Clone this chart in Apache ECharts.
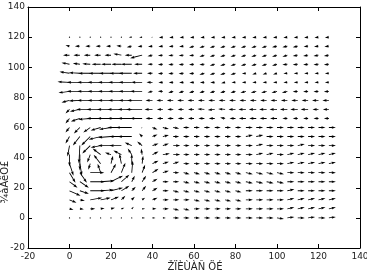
<!DOCTYPE html>
<html><head><meta charset="utf-8">
<script src="https://cdn.jsdelivr.net/npm/echarts@6/dist/echarts.min.js"></script>
<style>html,body{margin:0;padding:0;background:#fff}#c{width:367px;height:272px}</style>
</head><body><div id="c"></div>
<script>
// grid of arrow tails
const xs = [0,5,10,15,20,25,30,35,40,45,50,55,60,65,70,75,80,85,90,95,100,105,110,115,120,125];
const ys = [120,114,108,102,96,90,84,78,72,66,60,54,48,42,36,30,24,18,12,6,0];
// horizontal component, one row per ys entry
const U = [
[-0.6,-0.6,-0.6,-0.6,-0.6,-0.8,-3,-3,-1.5,-4,-4,-4,-4,-4,-4,-4,-4,-4,-4,-4,-4,-4,-4,-4,-4,-4],
[-4,-5,-5,-5,-5,-5,-5,-4.5,-4.5,-4.5,-4.5,-4.5,-5,-5,-5,-5,-5,-5,-5,-5,-5,-5,-5,-4.5,-4.5,-4.5],
[-6.5,-6.5,-6.5,-6.5,-6.5,-8,-7,-12,-5,-5,-5,-5,-5,-5,-5,-5,-5,-5,-5,-5,-5,-5,-5,-5,-5,-5],
[-8,-7,-8,-9,-10,-10,-11,-8,-5,-5,-5,-5,-5,-5,-5,-5,-5,-5,-5,-5,-5,-5,-5,-5,-5,-5],
[-10,-11,-12,-12,-12,-12,-13,-9,-5.5,-5,-5,-5,-5,-5,-5,-5,-5,-4,-4,-4,-4,-4,-4,-4,-4,-4],
[-12,-13,-13,-13,-13,-13,-13,-11,-6,-4.5,-4.5,-4.5,-4.5,-4.5,-4.5,-4,-4,-4,-4,-4,-4,-4,-4,-4,-4,-4],
[-11,-13,-13,-13,-13,-13,-13,-12,-5,-5,-5,-5,-5,-5,-5,-5,-5,-5.5,-5.5,-5.5,-5.5,-5.5,-5,-5,-5,-5],
[-8,-11,-13,-13,-13,-13,-13,-15,-7,-6.5,-6.5,-6.5,-6.5,-6.5,-6.5,-6.5,-6.5,-6.5,-6.5,-6.5,-6.5,-6.5,-6.5,-6.5,-6.5,-6.5],
[-4,-10,-14,-14,-14,-14,-14,-16,-8,-6,-6,-6,-6,-7,-7,-7,-7,-7.5,-7.5,-7.5,-7.5,-7.5,-7.5,-7.5,-6,-6],
[-4,-9,-12,-14,-14,-14,-14,-12,-7,-6,-6,-6,-6,-6,-6,-5,-6,-7,-7,-7,-7,-5,-5,-5,-5,-5],
[-4,-6,-7,-10,-12,-14,-16,-1,5,6,6,6,6,6,6,6,6,7,7,7,7,7,7,7,7,7],
[-4,-7,-9,-12,-13,-12,-14,-3,5,6,6,6,6,6,6,6,6,7,7,7,7,7,7,7,7,7],
[-2,-1,-8,-10,-13,-12,-7,-5,6,6,7,6,6,6,6,6,6,7,7,7,7,7,7,7,7,7],
[0,0,-3,-8,-6,-8,-4,-1,6,7,7,6,6,6,6,6,6,7,7,7,7,7,7,7,7,7],
[4,2,-2,-7,2,-2,0,1,6,6,6,6,6,6,6,6,6,7,7,7,7,7,7,7,7,7],
[6,7,14,-3,5,4,1,3,6,6,6,6,6,6,6,6,6,7,7,7,7,7,7,7,7,7],
[8,9,15,14,12,8,3,4,5,6,6,6,6,6,6,6,6,7,7,7,7,7,7,7,7,7],
[11,9,15,13,12,8,4,4,5,6,6,6,6,6,6,6,6,7,7,7,7,7,7,7,7,7],
[7,5,12,10,8,4,3,3,5,6,6,6,6,6,6,6,6,7,7,7,7,7,7,7,7,7],
[4,4,5,4,4,3,2,3,4,6,6,6,6,6,6,6,6,7,7,7,7,7,7,7,7,7],
[0.8,0.8,0.8,0.8,0.8,0.8,0.8,3,3,3,6,6,6,6,6,6,6,7,7,7,7,7,7,7,7,7]
];
// vertical component, one row per ys entry
const V = [
[0.6,0.5,0.3,0.6,0.3,0.2,0,-0.3,0,-0.5,-0.5,-0.5,-0.5,-0.5,-0.5,-0.5,-0.5,-0.5,-0.5,-0.5,-0.5,-0.5,-0.5,-0.5,-0.5,-0.5],
[1,0,0,0,0,0.3,-1,-0.5,-0.5,-0.5,-0.5,-0.5,-1.5,-1.5,-1.5,-1.5,-1.5,-1.5,-1.5,-1.5,-1.2,-1.2,-1.2,-0.5,-0.5,-0.5],
[0,0,0,0,0,1.5,0,-3,-1,-0.5,-0.5,-0.5,-0.5,-1.5,-1.5,-1.5,-1.5,-1.5,-1.5,-1.5,-1.5,-1.5,-0.7,-0.7,-0.7,-0.7],
[1.5,1,0.5,0,0,0,0,0,0,-0.5,-0.5,-0.5,-0.5,-0.5,-1.5,-1.5,-1.5,-1.5,-1.5,-1.5,-1.5,-0.5,-0.5,-0.5,-0.5,-0.5],
[1.5,0.5,0,0,0,0,0,0,0,-0.5,-0.5,-0.5,-0.5,-1.5,-1.5,-1.5,-1.5,-0.5,-1.2,-1.2,-1.2,-0.3,-0.3,-0.3,-0.3,-0.3],
[0.5,0,0,0,0,0,0,0,0,-0.3,-0.3,-0.3,-0.3,-0.3,-0.3,-1,-0.3,-0.3,-0.3,-0.3,-0.3,-0.3,-0.3,-0.3,-0.3,-0.3],
[-1.5,0,0,0,0,0,0,0,-1.2,0,-1.5,-1.5,-1.5,-1.5,-1.5,-1.5,-1.5,-1.5,-1.5,-1.5,-1.5,-1.5,-0.5,-0.5,-0.5,-0.5],
[-2,-0.5,0,0,0,0,0,0,0,0,0,0,0,0,0,0,0,0,0,0,0,0,0,0,0,0],
[-4,-2,0,0,0,0,0,0,0,0,0,0,0,0.5,-0.5,0.5,0,0,0,0,0,0,0,0,0,0],
[-5,-3,-1,0,0,0,0,0,0,0,0,0,0,0,0,1,0,0,0,0,0,0,0,0,0,0],
[-5,-6,-5,-3,-2,0,0,-1,-2,-1.5,-1,0,0,0,0,0,0,0,0,0,0,0,0,0,0,0],
[-7,-9,-9,-3,-1,0,0,3,2,1.5,0,0,0,0,0,0,0,1.5,1.5,0,0,0,0,0,0,0],
[-11,-18,-8,-2,0,0,3,4,2,2,0,0,0,0,0,0,0,0,1.5,0,0,0,1.5,0,0,0],
[-12,-16,-8,6,2,4,6,6,3,1,0,0,0,0,0,0,0,0,1.5,1.5,0,1.5,1.5,1.5,1.5,1.5],
[-12,-12,-6,9,8,10,10,8,3,2,2,0,0,0,0,0,0,0,0,0,0,1.5,1.5,1.5,1.5,1.5],
[-10,-10,0,9,9,10,12,8,4,2,0,-1.5,-1.5,-1.5,-1.5,-1.5,-1.5,-1.5,-1.5,-1.5,-1.5,0,0,0,0,0],
[-6,-6,0,1,6,7,6,6,3,0,0,-1.5,-1.5,-1.5,-1.5,-1.5,-1.5,-1.5,-1.5,-1.5,-1.5,0,0,0,0,0],
[-5,-3,0,1,3,5,4,5,3,0,-1.5,-1.5,-1.5,-1.5,-1.5,-1.5,-1.5,0,0,0,0,1.5,0,0,0,0],
[-3,-1,2,2,3,4,3,2,2,0,0,0,-1.5,-1.5,-1.5,-1.5,-1.5,0,0,0,0,1.5,1.5,1.5,1.5,1.5],
[-1,-0.5,0,0.5,1,1,2,0,0,0,-1.5,-1.5,0,0,0,0,0,0,0,0,0,1.5,1.5,1.5,1.5,1.5],
[0,0,0,0,0,0,0,0,0,0,0,0,0,0,0,0,0,0,0,0,-1,1,0,1,0,1]
];
const xTicks = [-20,0,20,40,60,80,100,120,140];
const yTicks = [-20,0,20,40,60,80,100,120,140];
const xName = "ŽÏÈÙÀÑ ÖÉ";
const yName = "¾àÀëÖ£";

const data = [];
ys.forEach((y, r) => xs.forEach((x, c) => data.push([x, y, U[r][c], V[r][c]])));

const S = 1, W = 0.85, HL = 4.3, HW = 2.7, HAL = 3.8;
function renderItem(params, api) {
  const p = api.coord([api.value(0), api.value(1)]);
  const dx = api.value(2) * S, dy = -api.value(3) * S;
  const L = Math.hypot(dx, dy);
  if (L < 1.2) {
    return {type: 'circle', shape: {cx: p[0], cy: p[1], r: 0.6}, style: {fill: '#000'}};
  }
  const a = Math.atan2(dy, dx), ca = Math.cos(a), sa = Math.sin(a);
  let w = W, hl = HL, hw = HW, hal = HAL;
  if (L < hl) { const k = L / hl; w *= k; hl *= k; hw *= k; hal *= k; w = Math.max(w, 0.6); }
  const loc = [[0,-w/2],[L-hal,-w/2],[L-hl,-hw/2],[L,0],[L-hl,hw/2],[L-hal,w/2],[0,w/2]];
  const pts = loc.map(q => [p[0] + q[0]*ca - q[1]*sa, p[1] + q[0]*sa + q[1]*ca]);
  return {type: 'polygon', shape: {points: pts}, style: {fill: '#000'}};
}

const axisCommon = {
  type: 'value', min: -20, max: 140, interval: 20,
  axisLine: {onZero: false, lineStyle: {color: '#000', width: 1}},
  axisTick: {inside: true, length: 4, lineStyle: {color: '#000'}},
  splitLine: {show: false}
};
const lbl = {fontSize: 9, color: '#222', fontFamily: 'DejaVu Sans', margin: 4,
  formatter: v => (xTicks.indexOf(v) >= 0 ? String(v) : '')};

const chart = echarts.init(document.getElementById('c'), null, {renderer: 'canvas'});
chart.setOption({
  animation: false,
  backgroundColor: '#fff',
  grid: {left: 28, right: 7, top: 7, bottom: 24, containLabel: false, outerBoundsMode: 'none'},
  xAxis: [
    Object.assign({}, axisCommon, {position: 'bottom', axisLabel: lbl}),
    Object.assign({}, axisCommon, {position: 'top', axisLabel: {show: false}})
  ],
  yAxis: [
    Object.assign({}, axisCommon, {position: 'left', axisLabel: Object.assign({}, lbl,
      {margin: 3, formatter: v => (yTicks.indexOf(v) >= 0 ? String(v) : '')})}),
    Object.assign({}, axisCommon, {position: 'right', axisLabel: {show: false}})
  ],
  graphic: [
    {type: 'text', x: 195, y: 262,
     style: {text: xName, fontSize: 10, fill: '#222', fontFamily: 'DejaVu Sans', align: 'center', verticalAlign: 'top'}},
    {type: 'text', x: 5, y: 182, rotation: Math.PI / 2,
     style: {text: yName, fontSize: 10, fill: '#222', fontFamily: 'DejaVu Sans', align: 'center', verticalAlign: 'middle'}}
  ],
  series: [{
    type: 'custom', coordinateSystem: 'cartesian2d', xAxisIndex: 0, yAxisIndex: 0,
    renderItem: renderItem, data: data, encode: {x: 0, y: 1}, silent: true, clip: false
  }]
});
</script></body></html>
